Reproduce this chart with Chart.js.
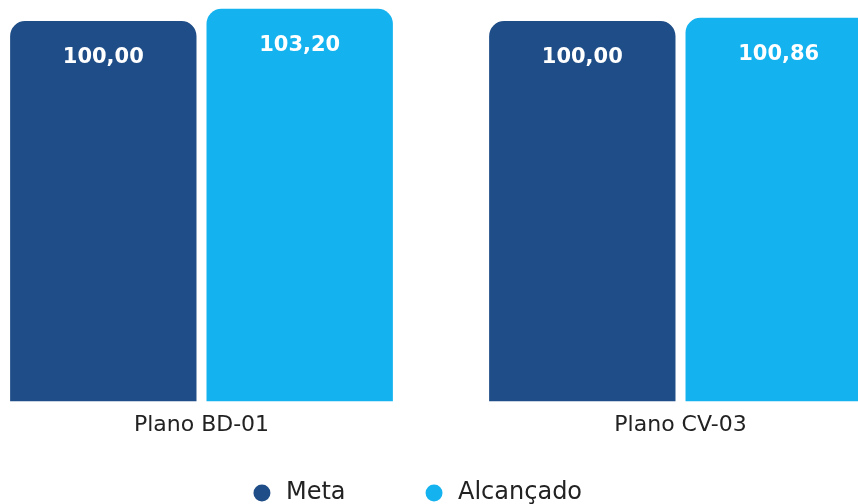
<!DOCTYPE html>
<html>
<head>
<meta charset="utf-8">
<script src="https://cdn.jsdelivr.net/npm/chart.js@4"></script>
<style>
    html, body { margin: 0; padding: 0; background: #fff; overflow: hidden; width: 858px; height: 504px; }
    #plano-chart { position: absolute; left: -88px; top: 0; }
</style>
</head>
<body>
<canvas id="plano-chart" width="1008" height="515"></canvas>
<script>
const planoLabels = ['Plano BD-01', 'Plano CV-03'];
const metaValues = [100.00, 100.00];
const alcancadoValues = [103.20, 100.86];

const fontFamily = "'DejaVu Sans', sans-serif";

// valores em cima das barras, formato pt-BR
const barValueLabels = {
    id: 'barValueLabels',
    afterDatasetsDraw(chart) {
        const ctx = chart.ctx;
        ctx.save();
        ctx.font = 'bold 21px ' + fontFamily;
        ctx.fillStyle = '#ffffff';
        ctx.textAlign = 'center';
        ctx.textBaseline = 'middle';
        chart.data.datasets.forEach((ds, i) => {
            chart.getDatasetMeta(i).data.forEach((bar, j) => {
                ctx.fillText(ds.data[j].toFixed(2).replace('.', ','), bar.x, bar.y + 37);
            });
        });
        ctx.restore();
    }
};

const planoCanvas = document.getElementById('plano-chart');
const planoChart = new Chart(planoCanvas, {
    type: 'bar',
    data: {
        labels: planoLabels,
        datasets: [{
            label: 'Meta',
            data: metaValues,
            backgroundColor: '#1e4d87',
            borderRadius: 15,
            categoryPercentage: .82,
            barPercentage: .949,
        }, {
            label: 'Alcançado',
            data: alcancadoValues,
            backgroundColor: '#14b3ef',
            borderRadius: 15,
            categoryPercentage: .82,
            barPercentage: .949,
        }]
    },
    options: {
        responsive: false,
        animation: false,
        layout: { padding: { top: 2 } },
        scales: {
            x: {
                grid: { display: false, drawTicks: false },
                border: { display: false },
                ticks: {
                    color: '#222',
                    mirror: true,
                    padding: -37,
                    font: { family: fontFamily, size: 22 },
                },
                afterFit(scale) { scale.height = 3; },
            },
            y: {
                min: 0,
                max: 105,
                grid: { display: false, drawTicks: false },
                border: { display: false },
                ticks: { display: false },
                afterFit(scale) { scale.width = 50; },
            }
        },
        plugins: {
            tooltip: { enabled: false },
            legend: {
                position: 'bottom',
                labels: {
                    usePointStyle: true,
                    pointStyle: 'circle',
                    boxWidth: 24,
                    boxHeight: 12,
                    padding: 76.5,
                    color: '#222',
                    font: { family: fontFamily, size: 24 },
                }
            }
        }
    },
    plugins: [barValueLabels]
});
</script>
</body>
</html>
